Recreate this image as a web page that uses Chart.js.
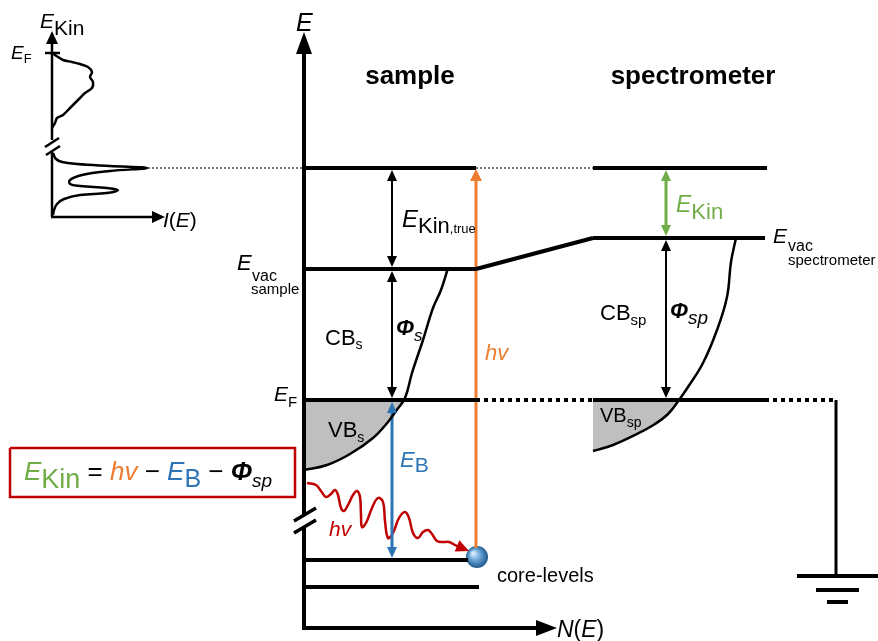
<!DOCTYPE html>
<html>
<head>
<meta charset="utf-8">
<script src="https://cdn.jsdelivr.net/npm/chart.js@4.4.1/dist/chart.umd.min.js"></script>
<style>
  html, body { margin: 0; padding: 0; background: #fff; }
  #wrap { width: 878px; height: 641px; position: relative; }
</style>
</head>
<body>
<div id="wrap"><canvas id="diagram"></canvas></div>
<script>
// ======================================================
// DATA — diagram coordinates (x to the right, energy drawn downwards like the figure)
// ======================================================
const ORANGE = "#ed7d31", BLUE = "#2e75b6", GREEN = "#70ad47", RED = "#c00000", GREY = "#bfbfbf";
const SANS = '"Liberation Sans", Arial, sans-serif';

// main axes
const axisEUpper   = [[304, 515], [304, 52]];
const axisELower   = [[304, 630], [304, 527]];
const axisN        = [[302, 628], [538, 628]];
const axisBreak1   = [[294, 521], [316, 508]];
const axisBreak2   = [[294, 533], [316, 520]];

// energy levels, sample side
const levelTopSample  = [[304, 168], [476, 168]];
const levelVacSample  = [[304, 269], [476, 269]];
const levelVacSlope   = [[476, 269], [593, 238]];
const levelFermiSample = [[304, 400], [476, 400]];
const levelCore1      = [[304, 560], [468, 560]];
const levelCore2      = [[304, 587], [479, 587]];

// energy levels, spectrometer side
const levelTopSpectro   = [[593, 168], [767, 168]];
const levelVacSpectro   = [[593, 238], [765, 238]];
const levelFermiSpectro = [[593, 400], [765, 400]];
const fermiDotsMiddle   = [[476, 400], [593, 400]];
const fermiDotsRight    = [[765, 400], [836, 400]];
const groundWire        = [[836, 400], [836, 576]];
const ground1 = [[797, 576], [878, 576]];
const ground2 = [[816, 590], [859, 590]];
const ground3 = [[827, 602], [848, 602]];
const kinDotsLeft  = [[148, 168], [304, 168]];
const kinDotsRight = [[476, 168], [593, 168]];

// band curves
const bandSample  = [[448, 268], [441, 290], [433, 308], [423, 340], [412, 373], [405, 398],
                     [396, 411], [388, 422], [373, 438], [350, 454], [327, 465], [304, 470]];
const vbSample    = [[304, 470], [327, 465], [350, 454], [373, 438], [388, 422], [396, 411], [405, 400]];
const bandSpectro = [[736, 238], [731, 262], [727, 297], [717, 330], [703, 363], [688, 387], [679, 400],
                     [668, 414], [655, 424], [637, 434], [613, 445], [593, 451]];
const vbSpectro   = [[593, 451], [613, 445], [637, 434], [655, 424], [668, 414], [679, 400]];

// vertical arrows
const arrowKinTrue = [[392, 178], [392, 259]];
const arrowPhiS    = [[392, 280], [392, 389]];
const arrowEB      = [[392, 411], [392, 549]];
const arrowHv      = [[476, 548], [476, 180]];
const arrowEKin    = [[666, 179], [666, 227]];
const arrowPhiSp   = [[666, 249], [666, 389]];

// incoming photon (red wave)
const photonWave = [[307, 483], [316, 485], [321, 491], [326, 497], [331, 494], [335, 490], [338, 495],
                    [341, 508], [344, 511], [348, 505], [353, 495], [357, 491], [360, 497], [361, 515],
                    [362, 527], [366, 523], [372, 508], [378, 498], [383, 502], [385, 521], [388, 538],
                    [393, 533], [399, 518], [405, 512], [409, 518], [413, 533], [418, 538], [423, 532],
                    [428, 530], [432, 534], [437, 541], [443, 542], [449, 542], [455, 545], [459, 547]];
const coreElectron = [[477, 557]];

// formula box
const formulaBox = [[10, 448], [295, 448], [295, 497], [10, 497], [10, 448]];

// inset spectrum
const insetAxisUpper = [[52, 140], [52, 42]];
const insetAxisLower = [[52, 217], [52, 152]];
const insetAxisI     = [[51, 217], [153, 217]];
const insetBreak1    = [[45, 147], [59, 138]];
const insetBreak2    = [[46, 155], [60, 146]];
const insetFermiTick = [[45, 53], [60, 53]];
const spectrumValence = [[52, 53], [58, 57], [63, 60], [72, 62], [80, 64], [88, 67], [92, 72], [90, 77],
                         [93, 82], [92, 88], [85, 93], [80, 98], [75, 103], [70, 108], [63, 115],
                         [57, 118], [55, 123], [52, 128]];
const spectrumCore = [[53, 153], [56, 159], [62, 162], [77, 164], [110, 166], [147, 168], [110, 171],
                      [82, 175], [70, 180], [70, 184], [80, 186], [107, 188], [118, 190], [107, 193],
                      [80, 195], [64, 199], [57, 204], [54, 210], [53, 215]];


// ======================================================
// ANNOTATIONS — arrow heads and texts
// ======================================================
const arrowHeads = [
  { tip: [304, 32],  from: [304, 80],  len: 22, half: 8, color: "#000" },
  { tip: [557, 628], from: [500, 628], len: 21, half: 8, color: "#000" },
  { tip: [52, 31],   from: [52, 80],   len: 13, half: 6, color: "#000" },
  { tip: [165, 217], from: [120, 217], len: 13, half: 6, color: "#000" },
  { tip: [392, 170], from: [392, 220], len: 11, half: 5, color: "#000" },
  { tip: [392, 267], from: [392, 220], len: 11, half: 5, color: "#000" },
  { tip: [392, 271], from: [392, 330], len: 11, half: 5, color: "#000" },
  { tip: [392, 398], from: [392, 330], len: 11, half: 5, color: "#000" },
  { tip: [392, 402], from: [392, 480], len: 11, half: 5, color: BLUE },
  { tip: [392, 558], from: [392, 480], len: 11, half: 5, color: BLUE },
  { tip: [476, 169], from: [476, 300], len: 12, half: 6, color: ORANGE },
  { tip: [666, 170], from: [666, 200], len: 11, half: 5, color: GREEN },
  { tip: [666, 236], from: [666, 200], len: 11, half: 5, color: GREEN },
  { tip: [666, 240], from: [666, 320], len: 11, half: 5, color: "#000" },
  { tip: [666, 398], from: [666, 320], len: 11, half: 5, color: "#000" },
  { tip: [469, 551], from: [455, 545], len: 13, half: 6, color: RED }
];

const labels = [
  { x: 296, y: 31, parts: [{ t: "E", s: 25, i: 1 }] },
  { x: 410, y: 84, align: "center", parts: [{ t: "sample", s: 26, b: 1 }] },
  { x: 693, y: 84, align: "center", parts: [{ t: "spectrometer", s: 26, b: 1 }] },
  { x: 402, y: 227, parts: [{ t: "E", s: 24, i: 1 }, { t: "Kin", s: 22, dy: 6 }, { t: ",true", s: 13, dy: 6 }] },
  { x: 237, y: 270, parts: [{ t: "E", s: 22, i: 1 }] },
  { x: 252, y: 281, parts: [{ t: "vac", s: 16 }] },
  { x: 251, y: 294, parts: [{ t: "sample", s: 15 }] },
  { x: 274, y: 401, parts: [{ t: "E", s: 21, i: 1 }, { t: "F", s: 15, dy: 6 }] },
  { x: 325, y: 345, parts: [{ t: "CB", s: 22 }, { t: "s", s: 14, dy: 4 }] },
  { x: 396, y: 335, parts: [{ t: "Φ", s: 22, i: 1, b: 1 }, { t: "s", s: 17, i: 1, dy: 6 }] },
  { x: 485, y: 360, parts: [{ t: "hv", s: 22, i: 1, c: ORANGE }] },
  { x: 328, y: 437, parts: [{ t: "VB", s: 22 }, { t: "s", s: 14, dy: 5 }] },
  { x: 400, y: 467, parts: [{ t: "E", s: 22, i: 1, c: BLUE }, { t: "B", s: 21, dy: 5, c: BLUE }] },
  { x: 329, y: 536, parts: [{ t: "hv", s: 21, i: 1, c: RED }] },
  { x: 497, y: 582, parts: [{ t: "core-levels", s: 20 }] },
  { x: 557, y: 637, parts: [{ t: "N", s: 23, i: 1 }, { t: "(", s: 23 }, { t: "E", s: 23, i: 1 }, { t: ")", s: 23 }] },
  { x: 676, y: 212, parts: [{ t: "E", s: 23, i: 1, c: GREEN }, { t: "Kin", s: 22, dy: 7, c: GREEN }] },
  { x: 773, y: 243, parts: [{ t: "E", s: 21, i: 1 }] },
  { x: 788, y: 251, parts: [{ t: "vac", s: 16 }] },
  { x: 788, y: 265, parts: [{ t: "spectrometer", s: 15 }] },
  { x: 600, y: 320, parts: [{ t: "CB", s: 22 }, { t: "sp", s: 15, dy: 5 }] },
  { x: 670, y: 318, parts: [{ t: "Φ", s: 22, i: 1, b: 1 }, { t: "sp", s: 19, i: 1, dy: 6 }] },
  { x: 600, y: 422, parts: [{ t: "VB", s: 20 }, { t: "sp", s: 14, dy: 5 }] },
  { x: 40, y: 28, parts: [{ t: "E", s: 21, i: 1 }, { t: "Kin", s: 21, dy: 7 }] },
  { x: 11, y: 59, parts: [{ t: "E", s: 19, i: 1 }, { t: "F", s: 13, dy: 4 }] },
  { x: 163, y: 227, parts: [{ t: "I", s: 21, i: 1 }, { t: "(", s: 21 }, { t: "E", s: 21, i: 1 }, { t: ")", s: 21 }] },
  { x: 24, y: 480, parts: [
      { t: "E", s: 26, i: 1, c: GREEN }, { t: "Kin", s: 27, dy: 8, c: GREEN },
      { t: " = ", s: 26 }, { t: "hv", s: 26, i: 1, c: ORANGE },
      { t: " − ", s: 26 }, { t: "E", s: 26, i: 1, c: BLUE }, { t: "B", s: 25, dy: 7, c: BLUE },
      { t: " − ", s: 26 }, { t: "Φ", s: 26, i: 1, b: 1 }, { t: "sp", s: 19, i: 1, dy: 7 }
  ] }
];


// ======================================================
// HELPERS
// ======================================================
function pts(list) {
  return list.map(([x, y]) => ({ x, y }));
}

function path(list, color, width, extra) {
  return Object.assign({
    data: pts(list),
    borderColor: color,
    borderWidth: width,
    pointRadius: 0,
    fill: false,
    tension: 0
  }, extra || {});
}

function fontOf(p) {
  return `${p.i ? "italic " : ""}${p.b ? "bold " : ""}${p.s}px ${SANS}`;
}

const diagramPlugin = {
  id: "diagram",
  afterDatasetsDraw(chart) {
    const { ctx, scales: { x, y } } = chart;
    const px = v => x.getPixelForValue(v);
    const py = v => y.getPixelForValue(v);
    ctx.save();

    arrowHeads.forEach(a => {
      const tx = px(a.tip[0]), ty = py(a.tip[1]);
      const ang = Math.atan2(ty - py(a.from[1]), tx - px(a.from[0]));
      const bx = tx - a.len * Math.cos(ang), by = ty - a.len * Math.sin(ang);
      ctx.fillStyle = a.color;
      ctx.beginPath();
      ctx.moveTo(tx, ty);
      ctx.lineTo(bx + a.half * Math.sin(ang), by - a.half * Math.cos(ang));
      ctx.lineTo(bx - a.half * Math.sin(ang), by + a.half * Math.cos(ang));
      ctx.closePath();
      ctx.fill();
    });

    ctx.textBaseline = "alphabetic";
    labels.forEach(l => {
      let cx = px(l.x);
      const base = py(l.y);
      if (l.align === "center") {
        let w = 0;
        l.parts.forEach(p => { ctx.font = fontOf(p); w += ctx.measureText(p.t).width; });
        cx -= w / 2;
      }
      l.parts.forEach(p => {
        ctx.font = fontOf(p);
        ctx.fillStyle = p.c || "#000";
        ctx.fillText(p.t, cx, base + (p.dy || 0));
        cx += ctx.measureText(p.t).width;
      });
    });

    ctx.restore();
  }
};


// ======================================================
// CHART
// ======================================================
document.addEventListener("DOMContentLoaded", () => {
  const canvas = document.getElementById("diagram");

  const dotted = { borderDash: [4, 4] };
  const thinDots = { borderDash: [2, 2] };
  const shade = (list, level) => ({
    data: pts(list),
    borderWidth: 0,
    pointRadius: 0,
    tension: 0.4,
    backgroundColor: GREY,
    fill: { value: level },
    order: 10
  });

  const datasets = [
    // axes
    path(axisEUpper, "#000", 4),
    path(axisELower, "#000", 4),
    path(axisN, "#000", 4),
    path(axisBreak1, "#000", 3.5),
    path(axisBreak2, "#000", 3.5),

    // levels
    path(levelTopSample, "#000", 4),
    path(levelVacSample, "#000", 4),
    path(levelVacSlope, "#000", 4),
    path(levelFermiSample, "#000", 4),
    path(levelCore1, "#000", 4),
    path(levelCore2, "#000", 4),
    path(levelTopSpectro, "#000", 4),
    path(levelVacSpectro, "#000", 4),
    path(levelFermiSpectro, "#000", 4),
    path(fermiDotsMiddle, "#000", 4, dotted),
    path(fermiDotsRight, "#000", 4, dotted),
    path(groundWire, "#000", 3),
    path(ground1, "#000", 4),
    path(ground2, "#000", 4),
    path(ground3, "#000", 4),
    path(kinDotsLeft, "#444", 1.5, thinDots),
    path(kinDotsRight, "#444", 1.5, thinDots),

    // bands
    path(bandSample, "#000", 2.5, { tension: 0.4 }),
    path(bandSpectro, "#000", 2.5, { tension: 0.4 }),

    // arrows
    path(arrowKinTrue, "#000", 2),
    path(arrowPhiS, "#000", 2),
    path(arrowEB, BLUE, 3),
    path(arrowHv, ORANGE, 3),
    path(arrowEKin, GREEN, 3),
    path(arrowPhiSp, "#000", 2),
    path(photonWave, RED, 2.5, { tension: 0.4 }),
    {
      data: pts(coreElectron),
      showLine: false,
      pointRadius: 11,
      pointBorderWidth: 0,
      pointBackgroundColor: c => {
        const ch = c.chart;
        if (!ch.chartArea || !c.parsed) return "#5b9bd5";
        const X = ch.scales.x.getPixelForValue(c.parsed.x);
        const Y = ch.scales.y.getPixelForValue(c.parsed.y);
        const g = ch.ctx.createRadialGradient(X - 4, Y - 4, 1, X, Y, 11);
        g.addColorStop(0, "#d6ebfa");
        g.addColorStop(0.45, "#6aa6d8");
        g.addColorStop(1, "#1f5a8c");
        return g;
      }
    },

    // formula box
    path(formulaBox, RED, 2.5),

    // inset spectrum
    path(insetAxisUpper, "#000", 2.5),
    path(insetAxisLower, "#000", 2.5),
    path(insetAxisI, "#000", 2.5),
    path(insetBreak1, "#000", 2.5),
    path(insetBreak2, "#000", 2.5),
    path(insetFermiTick, "#000", 2.5),
    path(spectrumValence, "#000", 2.5, { tension: 0.3 }),
    path(spectrumCore, "#000", 2.5, { tension: 0.4 }),

    // shaded valence bands
    shade(vbSample, 400),
    shade(vbSpectro, 400)
  ];

  new Chart(canvas, {
    type: "line",
    data: { datasets },
    options: {
      responsive: true,
      maintainAspectRatio: false,
      animation: false,
      layout: { padding: 0, autoPadding: false },
      elements: { line: { borderCapStyle: "butt" } },
      scales: {
        x: { type: "linear", min: 0, max: 878, display: false },
        y: { type: "linear", min: 0, max: 641, reverse: true, display: false }
      },
      plugins: {
        legend: { display: false },
        tooltip: { enabled: false }
      }
    },
    plugins: [diagramPlugin]
  });
});
</script>
</body>
</html>
